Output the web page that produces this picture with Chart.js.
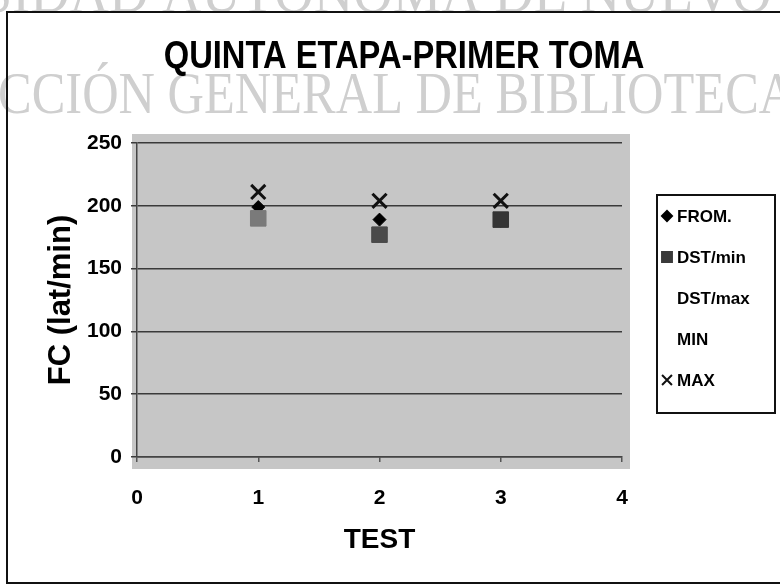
<!DOCTYPE html>
<html>
<head>
<meta charset="utf-8">
<script src="https://cdn.jsdelivr.net/npm/chart.js@4.4.0/dist/chart.umd.min.js"></script>
<style>
  html, body { margin: 0; padding: 0; background: #fff; }
  #marco { position: relative; width: 780px; height: 587px; }
</style>
</head>
<body>
<div id="marco"><canvas id="grafico" width="780" height="587"></canvas></div>
<script>
// Datos
const pruebas = [1, 2, 3];
const prom = [199, 189, 188];
const dstMin = [190, 177, 189];
const dstMax = [];
const minimo = [];
const maximo = [211, 204, 204];
const etiquetas = ['FROM.', 'DST/min', 'DST/max', 'MIN', 'MAX'];

const fuente = '"Liberation Sans", Arial, sans-serif';

function puntos(valores) {
    return valores.map((v, i) => ({ x: pruebas[i], y: v }));
}

// Fondo: marca de agua, marco y area gris
const fondo = {
    id: 'fondo',
    beforeDraw(chart) {
        const ctx = chart.ctx;
        const a = chart.chartArea;
        ctx.save();
        ctx.fillStyle = '#fff';
        ctx.fillRect(0, 0, chart.width, chart.height);

        ctx.fillStyle = '#cfcfcf';
        ctx.font = '52px "Liberation Serif", "DejaVu Serif", serif';
        ctx.textBaseline = 'alphabetic';
        // primera linea (cortada arriba)
        ctx.save();
        ctx.scale(1.05, 1.12);
        let t1 = 'UNIVERSIDAD AUTÓNOMA DE NUEVO LEÓN';
        ctx.fillText(t1, -ctx.measureText('UNIVERS').width + 12 / 1.05, 12 / 1.12);
        ctx.restore();
        // segunda linea
        ctx.save();
        ctx.scale(0.97, 1.12);
        let t2 = 'DIRECCIÓN GENERAL DE BIBLIOTECAS';
        ctx.fillText(t2, -ctx.measureText('DIRE').width - 2, 113 / 1.12);
        ctx.restore();

        ctx.strokeStyle = '#111';
        ctx.lineWidth = 2;
        ctx.strokeRect(7, 12, 800, 571);

        ctx.fillStyle = '#c6c6c6';
        ctx.fillRect(a.left - 5, a.top - 9, a.right - a.left + 13, a.bottom - a.top + 21);
        ctx.restore();
    },
    afterDraw(chart) {
        const ctx = chart.ctx;
        ctx.save();
        ctx.fillStyle = '#000';
        ctx.textAlign = 'center';
        ctx.textBaseline = 'middle';
        ctx.font = 'bold 38px ' + fuente;
        ctx.save();
        ctx.scale(0.86, 1);
        ctx.fillText('QUINTA ETAPA-PRIMER TOMA', 404 / 0.86, 58);
        ctx.restore();

        // leyenda
        ctx.strokeStyle = '#111';
        ctx.lineWidth = 2;
        ctx.strokeRect(657, 195, 118, 218);
        ctx.font = 'bold 17px ' + fuente;
        ctx.textAlign = 'left';
        chart.data.datasets.forEach((ds, i) => {
            const y = 216 + i * 41;
            ctx.fillStyle = ds.backgroundColor;
            ctx.strokeStyle = ds.borderColor;
            Chart.helpers.drawPoint(ctx, {
                pointStyle: ds.pointStyle,
                radius: ds.leyendaRadio,
                borderWidth: ds.borderWidth,
                rotation: 0
            }, 667, y);
            ctx.fillStyle = '#000';
            ctx.fillText(ds.label, 677, y + 1);
        });
        ctx.restore();
    }
};

const ctx = document.getElementById('grafico').getContext('2d');
new Chart(ctx, {
    type: 'scatter',
    data: {
        datasets: [
            {
                label: etiquetas[0], data: puntos(prom), pointStyle: 'rectRot',
                pointRadius: 6.5, backgroundColor: '#000', borderColor: '#000',
                borderWidth: 1, leyendaRadio: 5, order: 2
            },
            {
                label: etiquetas[1], data: puntos(dstMin), pointStyle: 'rect',
                pointRadius: 11, backgroundColor: '#3a3a3a', borderColor: '#3a3a3a',
                pointBackgroundColor: ['#7a7a7a', '#4a4a4a', '#353535'],
                pointBorderColor: ['#7a7a7a', '#4a4a4a', '#353535'],
                borderWidth: 1, leyendaRadio: 7, order: 1
            },
            {
                label: etiquetas[2], data: puntos(dstMax), pointStyle: 'rect',
                pointRadius: 0, backgroundColor: 'rgba(0,0,0,0)', borderColor: 'rgba(0,0,0,0)',
                borderWidth: 0, leyendaRadio: 0, order: 3
            },
            {
                label: etiquetas[3], data: puntos(minimo), pointStyle: 'rect',
                pointRadius: 0, backgroundColor: 'rgba(0,0,0,0)', borderColor: 'rgba(0,0,0,0)',
                borderWidth: 0, leyendaRadio: 0, order: 3
            },
            {
                label: etiquetas[4], data: puntos(maximo), pointStyle: 'crossRot',
                pointRadius: 10, backgroundColor: '#111', borderColor: '#111',
                borderWidth: 3, leyendaRadio: 7, order: 0
            }
        ]
    },
    options: {
        responsive: false,
        animation: false,
        events: [],
        layout: { padding: { left: 8, top: 143, right: 158, bottom: 0 } },
        plugins: {
            legend: { display: false },
            tooltip: { enabled: false }
        },
        scales: {
            x: {
                type: 'linear',
                min: 0,
                max: 4,
                ticks: { stepSize: 1, padding: 24, color: '#000', font: { family: fuente, size: 21, weight: 'bold' } },
                grid: { drawOnChartArea: false, tickLength: 5, color: '#555', lineWidth: 1.5 },
                border: { color: '#444', width: 1.5 },
                title: { display: true, text: 'TEST', color: '#000', padding: { bottom: 30 }, font: { family: fuente, size: 28, weight: 'bold' } },
                afterFit(scale) { scale.height = 130; }
            },
            y: {
                min: 0,
                max: 250,
                ticks: { stepSize: 50, padding: 9, color: '#000', font: { family: fuente, size: 21, weight: 'bold' } },
                grid: { color: '#3a3a3a', lineWidth: 1.5, tickLength: 6 },
                border: { color: '#444', width: 1.5 },
                title: { display: true, text: 'FC (lat/min)', color: '#000', padding: { top: 35 }, font: { family: fuente, size: 31, weight: 'bold' } },
                afterFit(scale) { scale.width = 129; }
            }
        }
    },
    plugins: [fondo]
});
</script>
</body>
</html>
